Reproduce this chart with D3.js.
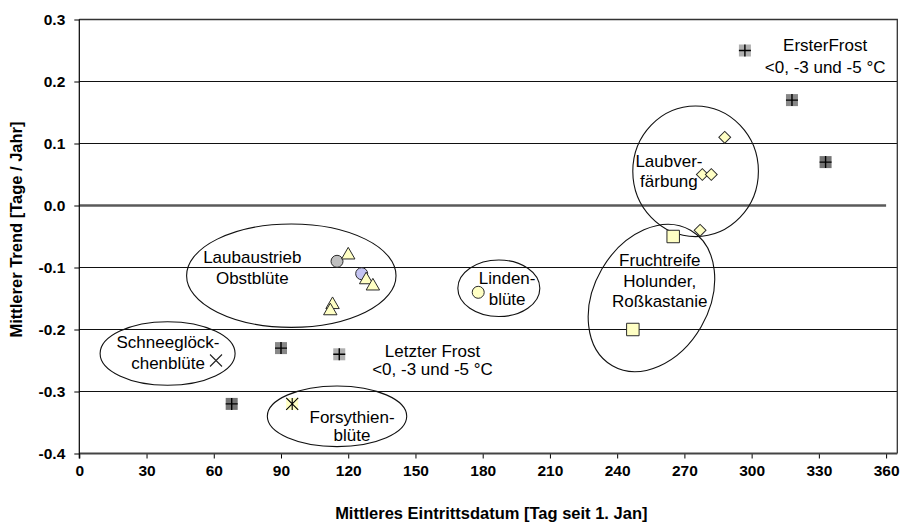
<!DOCTYPE html>
<html>
<head>
<meta charset="utf-8">
<script src="https://cdn.jsdelivr.net/npm/d3@7"></script>
<style>
  body { margin: 0; background: #fff; }
  svg { display: block; }
  text { font-family: "Liberation Sans", Arial, Helvetica, sans-serif; fill: #000; }
</style>
</head>
<body>
<svg id="chart" width="905" height="527"></svg>
<script>
// ---- data: [mittleres Eintrittsdatum (Tag seit 1. Jan), mittlerer Trend (Tage/Jahr)] ----
const xTicks = [0, 30, 60, 90, 120, 150, 180, 210, 240, 270, 300, 330, 360];
const yTicks = [-0.4, -0.3, -0.2, -0.1, 0.0, 0.1, 0.2, 0.3];

// frost dates, ordered <0 °C, -3 °C, -5 °C
const ersterFrost  = [[297, 0.25], [318, 0.17], [333, 0.07]];
const letzterFrost = [[116, -0.24], [90, -0.23], [68, -0.32]];

const schneegloeckchen = [[61, -0.25]];
const forsythie        = [[95, -0.32]];
const laubaustriebA    = [[115, -0.09]];
const laubaustriebB    = [[126, -0.11]];
const obstbluete       = [[120, -0.08], [128, -0.12], [131, -0.13], [113, -0.16], [112, -0.17]];
const lindenbluete     = [[178, -0.14]];
const laubverfaerbung  = [[288, 0.11], [278, 0.05], [282, 0.05], [277, -0.04]];
const fruchtreife      = [[265, -0.05], [247, -0.20]];

// ---- layout / style ----
const plot = { left: 79.3, right: 897.3, top: 19.5, bottom: 453.5 };
const frostShades = ["#b0b0b0", "#888888", "#747474"];
const paleYellow = "#ffffc4";
const outline = "#2a2a2a";

const svg = d3.select("#chart");
const x = d3.scaleLinear().domain([0, 365]).range([plot.left, plot.right]);
const y = d3.scaleLinear().domain([-0.4, 0.3]).range([plot.bottom, plot.top]);

// horizontal gridlines
svg.append("g").selectAll("line").data(yTicks.filter(v => v !== 0 && v !== -0.4)).join("line")
  .attr("x1", plot.left).attr("x2", plot.right)
  .attr("y1", d => y(d)).attr("y2", d => y(d))
  .attr("stroke", "#111").attr("stroke-width", 1);

// plot frame (top / right)
svg.append("path")
  .attr("d", `M${plot.left},${plot.top}H${plot.right}V${plot.bottom}`)
  .attr("fill", "none").attr("stroke", "#333").attr("stroke-width", 1.3);

// zero reference line
svg.append("line")
  .attr("x1", x(0)).attr("x2", x(360)).attr("y1", y(0)).attr("y2", y(0))
  .attr("stroke", "#5a5a5a").attr("stroke-width", 2.5);

// axes
const xAxis = svg.append("g").attr("transform", `translate(0,${plot.bottom})`)
  .call(d3.axisBottom(x).tickValues(xTicks).tickSize(5).tickSizeOuter(0).tickPadding(6)
    .tickFormat(d => String(d)));
xAxis.select(".domain").remove();
xAxis.selectAll(".tick line").attr("stroke", "#000");
xAxis.selectAll("text").attr("font-size", 15.5).attr("font-weight", "bold")
  .attr("font-family", '"Liberation Sans", Arial, sans-serif');
svg.append("line")
  .attr("x1", plot.left).attr("x2", plot.right).attr("y1", plot.bottom).attr("y2", plot.bottom)
  .attr("stroke", "#444").attr("stroke-width", 2);

const yAxis = svg.append("g").attr("transform", `translate(${plot.left},0)`)
  .call(d3.axisLeft(y).tickValues(yTicks).tickSize(5).tickSizeOuter(0).tickPadding(9)
    .tickFormat(d => d.toFixed(1)));
yAxis.select(".domain").remove();
yAxis.selectAll(".tick line").attr("stroke", "#000");
yAxis.selectAll("text").attr("font-size", 15.5).attr("font-weight", "bold")
  .attr("font-family", '"Liberation Sans", Arial, sans-serif');
svg.append("line")
  .attr("x1", plot.left).attr("x2", plot.left).attr("y1", plot.top).attr("y2", plot.bottom + 5)
  .attr("stroke", "#000").attr("stroke-width", 1.2);

// axis titles
svg.append("text")
  .attr("x", (plot.left + plot.right) / 2 + 3).attr("y", 519)
  .attr("text-anchor", "middle").attr("font-size", 16.5).attr("font-weight", "bold")
  .text("Mittleres Eintrittsdatum [Tag seit 1. Jan]");
svg.append("text")
  .attr("transform", `translate(21.5,${(plot.top + plot.bottom) / 2 - 7}) rotate(-90)`)
  .attr("text-anchor", "middle").attr("font-size", 16.5).attr("font-weight", "bold")
  .text("Mittlerer Trend [Tage / Jahr]");

// group outlines: centre in data units, radii in px
const groups = [
  { c: [94.6, -0.1132],  rx: 104.7, ry: 51.7, rot: 0 },   // Laubaustrieb / Obstblüte
  { c: [275.0, 0.0552],  rx: 62.8,  ry: 65.3, rot: 0 },   // Laubverfärbung
  { c: [255.3, -0.1492], rx: 78.2,  ry: 57.4, rot: -60 }, // Fruchtreife
  { c: [39.4, -0.2387],  rx: 67.5,  ry: 31.8, rot: 0 },   // Schneeglöckchenblüte
  { c: [187.2, -0.1335], rx: 41,    ry: 28.3, rot: 0 },   // Lindenblüte
  { c: [115.0, -0.340],  rx: 69.7,  ry: 30.3, rot: 0 }    // Forsythienblüte
];
svg.append("g").selectAll("ellipse").data(groups).join("ellipse")
  .attr("cx", 0).attr("cy", 0).attr("rx", d => d.rx).attr("ry", d => d.ry)
  .attr("transform", d => `translate(${x(d.c[0])},${y(d.c[1])}) rotate(${d.rot})`)
  .attr("fill", "none").attr("stroke", "#111").attr("stroke-width", 1.1);

// group labels: anchor = centre x / first baseline in data units, gap in px
const labels = [
  { at: [77.2, -0.0923],  gap: 21.3, lines: ["Laubaustrieb", "Obstblüte"] },
  { at: [263.1, 0.0616],  gap: 20,   lines: ["Laubver-", "färbung"] },
  { at: [259.0, -0.0976], gap: 20.7, lines: ["Fruchtreife", "Holunder,", "Roßkastanie"] },
  { at: [190.9, -0.1266], gap: 21,   lines: ["Linden-", "blüte"] },
  { at: [39.6, -0.2306],  gap: 20.5, lines: ["Schneeglöck-", "chenblüte"] },
  { at: [121.7, -0.3503], gap: 18.5, lines: ["Forsythien-", "blüte"] },
  { at: [157.6, -0.2439], gap: 18.5, lines: ["Letzter Frost", "<0, -3 und -5 °C"] },
  { at: [332.8, 0.2492],  gap: 21.7, lines: ["ErsterFrost", "<0, -3 und -5 °C"] }
];
labels.forEach(l => {
  const t = svg.append("text").attr("text-anchor", "middle").attr("font-size", 17);
  l.lines.forEach((s, i) => {
    t.append("tspan").attr("x", x(l.at[0])).attr("y", y(l.at[1]) + i * l.gap).text(s);
  });
});

// ---- markers ----
const g = svg.append("g");
const pos = d => `translate(${x(d[0])},${y(d[1])})`;

function frost(data) {
  const m = g.selectAll(null).data(data).enter().append("g").attr("transform", pos);
  m.append("rect").attr("x", -6).attr("y", -6).attr("width", 12).attr("height", 12)
    .attr("fill", (d, i) => frostShades[i]);
  m.append("path").attr("d", "M-6,0H6M0,-6V6").attr("stroke", "#000").attr("stroke-width", 1.4);
}
frost(ersterFrost);
frost(letzterFrost);

g.selectAll(null).data(schneegloeckchen).enter().append("path")
  .attr("transform", pos).attr("d", "M-6,-6L6,6M-6,6L6,-6")
  .attr("stroke", "#222").attr("stroke-width", 1.1).attr("fill", "none");

const fz = g.selectAll(null).data(forsythie).enter().append("g").attr("transform", pos);
fz.append("rect").attr("x", -6).attr("y", -6).attr("width", 12).attr("height", 12).attr("fill", paleYellow);
fz.append("path").attr("d", "M-6,-6L6,6M-6,6L6,-6M0,-6V6").attr("stroke", "#000").attr("stroke-width", 1.1);

function symbols(data, type, size, fill, rot = 0) {
  g.selectAll(null).data(data).enter().append("path")
    .attr("transform", d => pos(d) + ` rotate(${rot})`)
    .attr("d", d3.symbol().type(type).size(size)())
    .attr("fill", fill).attr("stroke", outline).attr("stroke-width", 1);
}
symbols(laubaustriebA, d3.symbolCircle, 113, "#c0c0c0");
symbols(laubaustriebB, d3.symbolCircle, 113, "#c4c4f2");
symbols(obstbluete, d3.symbolTriangle, 78, paleYellow);
symbols(lindenbluete, d3.symbolCircle, 113, paleYellow);
symbols(laubverfaerbung, d3.symbolSquare, 70, paleYellow, 45);
symbols(fruchtreife, d3.symbolSquare, 156, paleYellow);
</script>
</body>
</html>
